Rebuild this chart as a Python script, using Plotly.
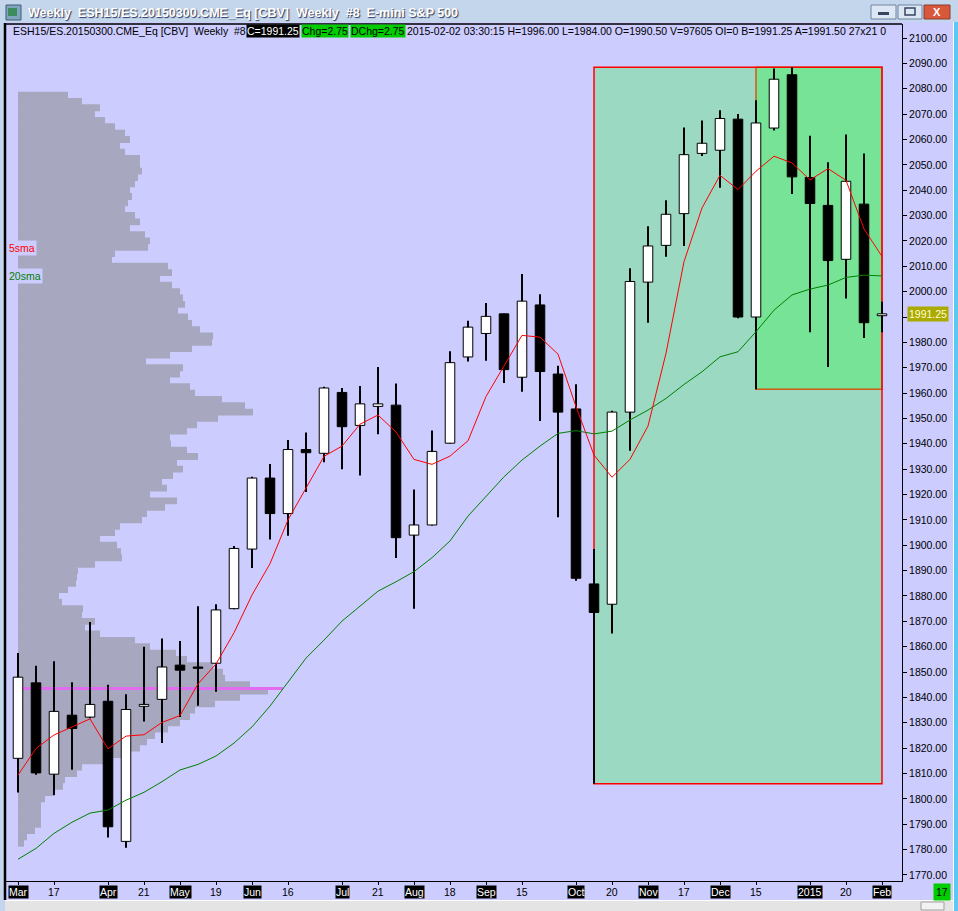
import plotly.graph_objects as go

# ---------------- data ----------------
weeks = list(range(49))
opens = [1816, 1845.75, 1809.75, 1833, 1832.25, 1838.5, 1783.25, 1836.5, 1839.25, 1852.75,
         1852, 1853.5, 1875, 1898.5, 1926.5, 1912.5, 1937.75, 1936.25, 1960.25, 1947.25,
         1954.75, 1955.25, 1904, 1908, 1940.25, 1974.25, 1983.5, 1991.25, 1966.25, 1994.75,
         1967.5, 1953.75, 1884.75, 1876.75, 1952.5, 2003.75, 2018.25, 2030.75, 2054.5, 2055.75,
         2068, 1990, 2064.5, 2085.5, 2045, 2034, 2012.75, 2034.5, 1990.5]
highs = [1857.5, 1852.5, 1854.25, 1846, 1869.75, 1845, 1841.25, 1860, 1863.25, 1862.25,
         1876, 1876.75, 1899.75, 1927, 1932, 1941.5, 1944.5, 1962.5, 1962, 1962.75,
         1970.25, 1963.75, 1922, 1945.25, 1976.5, 1988.5, 1995.5, 1991.5, 2007, 1999,
         1970.75, 1963.5, 1898.5, 1953, 2009.25, 2025.75, 2036, 2064.75, 2067.5, 2071.5,
         2070, 2075.5, 2088, 2088.5, 2061.5, 2051, 2062, 2054.5, 1996]
lows = [1802.5, 1809.5, 1801.5, 1811.5, 1831.75, 1784.75, 1780.75, 1830.5, 1822, 1832.25,
        1836.75, 1842.25, 1874.75, 1891, 1902.25, 1903.75, 1921, 1932.75, 1930, 1927.5,
        1943.75, 1895, 1875, 1907.75, 1940, 1972.5, 1972.75, 1964, 1960.5, 1949,
        1911, 1886, 1806, 1865.25, 1937.25, 1987.75, 2013.75, 2018, 2053.5, 2041,
        1989.5, 1961.5, 2063.5, 2038.5, 1984, 1970.25, 1997.25, 1981.75, 1984]
closes = [1848, 1810.25, 1834.5, 1827.75, 1837.25, 1789, 1835.25, 1837.25, 1852, 1850.75,
          1851.5, 1874.5, 1898.75, 1926.5, 1912.5, 1937.75, 1936.5, 1962, 1946.75, 1955.75,
          1955.75, 1903, 1908, 1937, 1972, 1986, 1990.25, 1969.25, 1996.25, 1968.5,
          1952.5, 1887, 1873.5, 1952.5, 2004, 2018, 2030.5, 2054, 2058.5, 2068.25,
          1990, 2066.5, 2083.75, 2045.25, 2034.75, 2012.25, 2043.5, 1987.75, 1991.25]
sma5 = [1809.4, 1819.9, 1825.2, 1828.4, 1831.55, 1819.75, 1824.75, 1825.3, 1830.15, 1832.85,
        1845.35, 1853.2, 1865.5, 1880.4, 1892.75, 1910.0, 1922.4, 1935.05, 1939.1, 1947.75,
        1951.35, 1944.65, 1933.85, 1931.9, 1935.15, 1941.2, 1958.65, 1970.9, 1982.75, 1982.05,
        1975.35, 1954.7, 1935.55, 1926.8, 1933.9, 1947.0, 1975.7, 2011.8, 2033.0, 2045.85,
        2040.25, 2047.45, 2053.4, 2050.75, 2044.05, 2048.5, 2043.9, 2024.7, 2013.9]
sma20 = [1776.2, 1780.5, 1786.4, 1790.8, 1794.4, 1795.6, 1799.5, 1802.6, 1806.8, 1811.4,
         1813.6, 1816.9, 1822.0, 1828.4, 1836.6, 1846.2, 1855.5, 1862.6, 1870.1, 1876.0,
         1881.9, 1885.6, 1889.6, 1895.1, 1901.7, 1911.5, 1919.1, 1927.0, 1933.6, 1939.1,
         1944.1, 1945.2, 1943.9, 1945.0, 1949.4, 1953.3, 1957.9, 1963.4, 1968.4, 1974.3,
         1976.3, 1984.2, 1992.7, 1998.7, 2001.0, 2002.6, 2005.6, 2006.5, 2006.2]

tick_idx = [0, 2, 5, 7, 9, 11, 13, 15, 18, 20, 22, 24, 26, 28, 31, 33, 35, 37, 39, 41, 44, 46, 48]
tick_text = ["Mar", "17", "Apr", "21", "May", "19", "Jun", "16", "Jul", "21", "Aug", "18",
             "Sep", "15", "Oct", "20", "Nov", "17", "Dec", "15", "2015", "20", "Feb"]
month_names = {"Mar", "Apr", "May", "Jun", "Jul", "Aug", "Sep", "Oct", "Nov", "Dec", "2015", "Feb"}

price_ticks = list(range(1770, 2101, 10))

# volume profile (price buckets of 2.5 points, from 2077.5 down)
profile_top = 2077.5
profile_step = 2.5
profile_volume = [50, 64, 82, 77, 87, 97, 107, 112, 102, 107,
                  122, 122, 124, 120, 117, 112, 114, 110, 107, 117,
                  122, 112, 127, 132, 130, 97, 94, 150, 154, 142,
                  154, 162, 165, 167, 160, 170, 174, 182, 195, 194,
                  174, 152, 128, 165, 162, 152, 172, 177, 204, 227,
                  235, 200, 179, 169, 152, 153, 169, 180, 159, 165,
                  155, 144, 149, 132, 159, 147, 129, 124, 102, 97,
                  82, 99, 103, 104, 77, 60, 59, 58, 50, 41,
                  44, 65, 64, 77, 67, 82, 117, 132, 158, 169,
                  195, 205, 207, 232, 250, 222, 197, 177, 172, 162,
                  150, 137, 129, 122, 107, 92, 64, 59, 47, 45,
                  37, 27, 23, 23, 23, 23, 17, 9, 6]
profile_prices = [profile_top - profile_step * k for k in range(len(profile_volume))]
poc_price = 1843.5

crash_week = 32
pullback_week = 41
last_price = 1991.25

# ---------------- geometry helpers (window chrome) ----------------
W, H = 958, 911
L, R, T, B = 6, 902, 24, 881


def px(x):
    return (x - L) / (R - L)


def py(y):
    return (B - y) / (B - T)


FONT = "Liberation Sans, Arial, sans-serif"
LAV = "#CCCCFF"

fig = go.Figure()

# volume profile (main x axis)
fig.add_trace(go.Bar(
    y=profile_prices, x=profile_volume, base=0, orientation="h", width=profile_step * 1.08,
    marker=dict(color="#A7A7BF", line=dict(width=0)), xaxis="x", yaxis="y",
    hoverinfo="skip", showlegend=False))
fig.add_trace(go.Scatter(
    x=[0, max(profile_volume) * 1.06], y=[poc_price, poc_price], mode="lines",
    line=dict(color="#E36BF0", width=3), xaxis="x", yaxis="y",
    hoverinfo="skip", showlegend=False))

# candle wicks
wx, wy = [], []
for i, o, h, l, c in zip(weeks, opens, highs, lows, closes):
    wx += [i, i, None, i, i, None]
    wy += [max(o, c), h, None, min(o, c), l, None]
fig.add_trace(go.Scatter(x=wx, y=wy, mode="lines", line=dict(color="black", width=2),
                         xaxis="x2", yaxis="y", hoverinfo="skip", showlegend=False))

# candle bodies
body_base = [min(o, c) for o, c in zip(opens, closes)]
body_h = [abs(c - o) for o, c in zip(opens, closes)]
body_col = ["white" if c >= o else "black" for o, c in zip(opens, closes)]
fig.add_trace(go.Bar(x=weeks, y=body_h, base=body_base, width=0.53,
                     marker=dict(color=body_col, line=dict(color="black", width=1)),
                     xaxis="x2", yaxis="y", hoverinfo="skip", showlegend=False))

# moving averages
fig.add_trace(go.Scatter(x=weeks, y=sma20, mode="lines", line=dict(color="#008000", width=1),
                         xaxis="x2", yaxis="y", hoverinfo="skip", showlegend=False))
fig.add_trace(go.Scatter(x=weeks, y=sma5, mode="lines", line=dict(color="#FF0000", width=1),
                         xaxis="x2", yaxis="y", hoverinfo="skip", showlegend=False))

last_i = weeks[-1]
box_top = max(highs[crash_week:])
inner_top = max(highs[pullback_week:])

shapes = [
    dict(type="rect", xref="x2", yref="y", x0=crash_week, x1=last_i, y0=lows[crash_week], y1=box_top,
         fillcolor="#9BD9C2", line=dict(width=0), layer="below"),
    dict(type="rect", xref="x2", yref="y", x0=pullback_week, x1=last_i, y0=lows[pullback_week], y1=inner_top,
         fillcolor="#77E396", line=dict(color="#D25A14", width=1.5), layer="below"),
    dict(type="rect", xref="x2", yref="y", x0=crash_week, x1=last_i, y0=lows[crash_week], y1=box_top,
         fillcolor="rgba(0,0,0,0)", line=dict(color="#FF0000", width=1.5), layer="below"),
]


def prect(x0, y0, x1, y1, fill, line=None, lw=0):
    d = dict(type="rect", xref="paper", yref="paper", x0=px(x0), x1=px(x1), y0=py(y1), y1=py(y0),
             fillcolor=fill, layer="above")
    d["line"] = dict(color=line, width=lw) if line else dict(width=0)
    return d


def pline(x0, y0, x1, y1, color, lw):
    return dict(type="line", xref="paper", yref="paper", x0=px(x0), x1=px(x1), y0=py(y0), y1=py(y1),
                line=dict(color=color, width=lw), layer="above")


# window chrome
shapes += [
    prect(0, 0, 958, 22, "#C4D6EC"),
    prect(0, 22, 4, 911, "#C4D6EC"),
    prect(954, 22, 958, 911, "#5CC8F4"),
    pline(953.5, 22, 953.5, 911, "white", 1),
    prect(5, 901, 953, 911, "#E4E4E4"),
    pline(5, 900.5, 953, 900.5, "white", 1),
    prect(921, 902, 944, 910, "#F2F2F2", "#A0A0A0", 1),
    pline(5, 24, 902, 24, "black", 1.3),
    pline(5, 23, 5, 900, "black", 2.5),
    # icon
    prect(6, 5, 21, 20, "#7FA6BE", "#3E5C74", 1),
    prect(8, 8, 17, 16, "#3C8C60"),
    # buttons
    prect(871, 5, 896, 19, "#DCE6F4", "#6F84A0", 1),
    prect(878, 12, 889, 15, "#34465E"),
    prect(898, 5, 922, 19, "#DCE6F4", "#6F84A0", 1),
    prect(905, 8, 915, 15, "rgba(0,0,0,0)", "#34465E", 1.5),
    prect(924, 5, 950, 19, "#D8583C", "#8A3A2A", 1),
]

annotations = []
# title
annotations.append(dict(
    text="Weekly\u00a0\u00a0ESH15/ES.20150300.CME_Eq [CBV]\u00a0\u00a0Weekly\u00a0\u00a0#8\u00a0\u00a0E-mini S&amp;P 500",
    xref="paper", yref="paper", x=px(26), y=py(13), xanchor="left", yanchor="middle",
    showarrow=False, font=dict(family=FONT, size=12.5, color="white", weight="bold",
                               shadow="1px 1px 1px #2A3A5A")))
annotations.append(dict(text="<b>X</b>", xref="paper", yref="paper", x=px(937), y=py(12),
                        xanchor="center", yanchor="middle", showarrow=False,
                        font=dict(family=FONT, size=11, color="white")))

# info line
info = [
    (12, "ESH15/ES.20150300.CME_Eq [CBV]\u00a0\u00a0Weekly\u00a0\u00a0#8", "black", None),
    (246, "C=1991.25", "white", "black"),
    (301, "Chg=2.75", "black", "#00CC00"),
    (350, "DChg=2.75", "black", "#00CC00"),
    (406, "2015-02-02 03:30:15 H=1996.00 L=1984.00 O=1990.50 V=97605 OI=0 B=1991.25 A=1991.50 27x21 0",
     "black", None),
]
for x0, txt, col, bg in info:
    a = dict(text=txt, xref="paper", yref="paper", x=px(x0), y=py(31), xanchor="left",
             yanchor="middle", showarrow=False, borderpad=0,
             font=dict(family=FONT, size=10.5, color=col))
    if bg:
        a["bgcolor"] = bg
    annotations.append(a)

# x labels
for idx, txt in zip(tick_idx, tick_text):
    a = dict(text=txt, xref="x2", yref="paper", x=idx, y=0, yanchor="top", yshift=-4,
             xanchor="center", showarrow=False, borderpad=0,
             font=dict(family=FONT, size=10.5, color="white" if txt in month_names else "black"))
    if txt in month_names:
        a["bgcolor"] = "black"
    annotations.append(a)

# indicator labels
annotations.append(dict(text="5sma", xref="paper", yref="y", x=px(7), y=sma5[-1], yshift=8,
                        xanchor="left", yanchor="middle", showarrow=False, bgcolor=LAV, borderpad=1,
                        font=dict(family=FONT, size=10.5, color="#FF0000")))
annotations.append(dict(text="20sma", xref="paper", yref="y", x=px(7), y=sma20[-1],
                        xanchor="left", yanchor="middle", showarrow=False, bgcolor=LAV, borderpad=1,
                        font=dict(family=FONT, size=10.5, color="#008000")))
# last price
annotations.append(dict(text=f"{last_price:.2f}", xref="paper", yref="y", x=px(907), y=last_price,
                        xanchor="left", yanchor="middle", showarrow=False, bgcolor="#AAAA00",
                        borderpad=1, font=dict(family=FONT, size=10.5, color="#FFFFD8")))
# corner counter
annotations.append(dict(text="17", xref="paper", yref="paper", x=px(942), y=py(892),
                        xanchor="center", yanchor="middle", showarrow=False, bgcolor="#00CC00",
                        borderpad=2, font=dict(family=FONT, size=10.5, color="black")))

# y tick labels (the one hidden behind the last-price marker is left blank)
price_tick_text = ["" if abs(p - last_price) < 5 else f"{p:.2f}" for p in price_ticks]

fig.update_layout(
    width=W, height=H,
    margin=dict(l=L, r=W - R, t=T, b=H - B, pad=0),
    paper_bgcolor=LAV, plot_bgcolor=LAV,
    showlegend=False, hovermode=False, barmode="overlay",
    xaxis=dict(range=[-12, 884], visible=False, fixedrange=True),
    xaxis2=dict(overlaying="x", anchor="y", side="bottom",
                range=[(L - 18) / 18, (R - 18) / 18],
                showline=True, linecolor="black", linewidth=1,
                ticks="outside", ticklen=3, tickcolor="black", tickwidth=1,
                tickvals=tick_idx, showticklabels=False, showgrid=False, zeroline=False),
    yaxis=dict(range=[1767.63, 2105.52], side="right", showline=True, linecolor="black",
               linewidth=1, ticks="outside", ticklen=4, tickcolor="black",
               tickvals=price_ticks, ticktext=price_tick_text, showgrid=False, zeroline=False,
               tickfont=dict(family=FONT, size=10.5, color="black")),
    shapes=shapes, annotations=annotations,
)

fig.write_html("out.html", config={"displayModeBar": False, "staticPlot": True},
               post_script="document.body.style.margin='0';document.body.style.padding='0';"
                           "document.documentElement.style.overflow='hidden';")
